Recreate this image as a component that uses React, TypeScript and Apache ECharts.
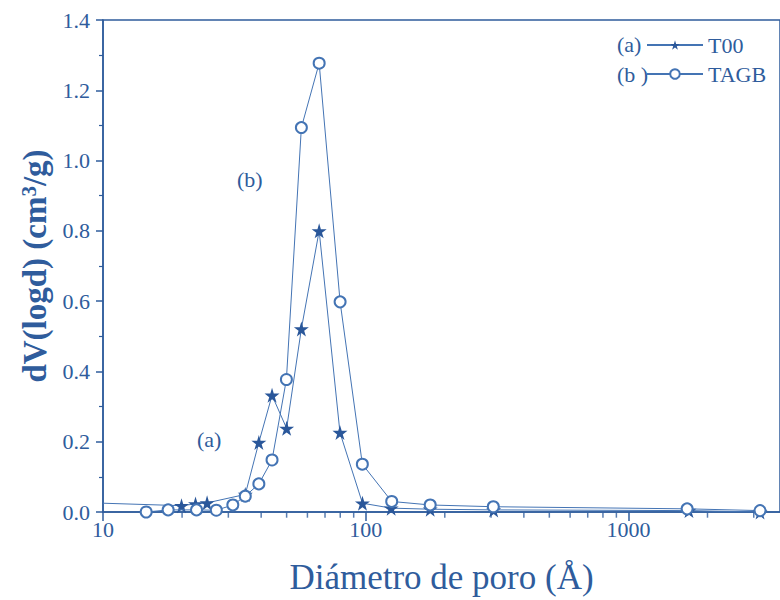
import React, { useEffect, useRef } from "react";
import * as echarts from "echarts";

// Pore diameter (Å) and dV(logd) (cm³/g)
const t00Diameter = [10, 19.9, 22.5, 24.9, 34.8, 39.2, 44.0, 50.0, 56.9, 66.5, 79.8, 97.2, 125, 176, 307, 1700, 3170];
const t00Values = [0.025, 0.018, 0.023, 0.026, 0.05, 0.198, 0.332, 0.238, 0.521, 0.8, 0.226, 0.025, 0.011, 0.008, 0.006, 0.004, 0.0];

const tagbDiameter = [14.6, 17.7, 22.7, 27.0, 31.2, 34.8, 39.2, 44.0, 49.9, 56.9, 66.5, 79.9, 97.1, 125.6, 176, 306, 1673, 3170];
const tagbValues = [0.0, 0.006, 0.006, 0.005, 0.02, 0.045, 0.08, 0.148, 0.377, 1.094, 1.277, 0.598, 0.136, 0.03, 0.02, 0.015, 0.009, 0.004];

const xMinorTicks = [20, 30, 40, 50, 60, 70, 80, 90, 200, 300, 400, 500, 600, 700, 800, 900, 2000, 3000];
const yTickValues = [0, 0.2, 0.4, 0.6, 0.8, 1.0, 1.2, 1.4];

const BLUE = "#2f5c9c";
const LINE = "#4474b4";
const FONT = "'Liberation Serif', 'Times New Roman', serif";
const STAR = "path://M50,0 L61,35 L98,35 L68,57 L79,91 L50,70 L21,91 L32,57 L2,35 L39,35 Z";
const X_MIN = 10;
const X_MAX = 3776;

export default function App() {
  const ref = useRef<HTMLDivElement>(null);
  useEffect(() => {
    if (!ref.current) return;
    const chart = echarts.init(ref.current, null, { renderer: "svg" });
    const t00Data = t00Diameter.map((d, i) =>
      i === 0 ? { value: [d, t00Values[i]], symbol: "none" } : [d, t00Values[i]]
    );
    const tagbData = tagbDiameter.map((d, i) => [d, tagbValues[i]]);
    chart.setOption({
      animation: false,
      backgroundColor: "#fff",
      grid: {
        left: 103,
        top: 20,
        right: -2,
        bottom: 86,
        show: true,
        borderColor: BLUE,
        borderWidth: 1.5,
      },
      legend: {
        orient: "vertical",
        left: 646,
        top: 34,
        padding: 0,
        itemWidth: 56,
        itemHeight: 12,
        itemGap: 7,
        data: ["T00", "TAGB"],
        textStyle: { fontFamily: FONT, fontSize: 22, color: BLUE },
      },
      xAxis: {
        type: "log",
        logBase: 10,
        min: X_MIN,
        max: X_MAX,
        name: "Diámetro de poro (Å)",
        nameLocation: "middle",
        nameGap: 48,
        nameTextStyle: { fontFamily: FONT, fontSize: 35, color: BLUE },
        axisLine: { lineStyle: { color: BLUE, width: 1.5 } },
        axisTick: { show: true, length: 9, lineStyle: { color: BLUE, width: 1.5 } },
        axisLabel: {
          fontFamily: FONT,
          fontSize: 22,
          color: BLUE,
          margin: 6,
          showMaxLabel: false,
          formatter: (v: number) => String(Math.round(v)),
        },
        splitLine: { show: false },
      },
      yAxis: {
        type: "value",
        min: 0,
        max: 1.4,
        interval: 0.2,
        name: "{a|dV(logd) (cm}{s|3}{a|/g)}",
        nameLocation: "middle",
        nameGap: 50,
        nameTextStyle: {
          rich: {
            a: { fontFamily: FONT, fontSize: 33, fontWeight: "bold", color: BLUE },
            s: { fontFamily: FONT, fontSize: 21, fontWeight: "bold", color: BLUE, verticalAlign: "top", padding: [0, 0, 10, 0] },
          },
        },
        axisLine: { show: true, lineStyle: { color: BLUE, width: 1.5 } },
        axisTick: { show: true, length: 7, lineStyle: { color: BLUE, width: 1.5 } },
        minorTick: { show: true, splitNumber: 2, length: 4, lineStyle: { color: BLUE, width: 1.2 } },
        axisLabel: {
          fontFamily: FONT,
          fontSize: 22,
          color: BLUE,
          margin: 13,
          formatter: (v: number) => (yTickValues.includes(Math.round(v * 10) / 10) ? v.toFixed(1) : ""),
        },
        splitLine: { show: false },
      },
      graphic: [
        { type: "text", left: 617, top: 33, style: { text: "(a)", font: `22px ${FONT}`, fill: BLUE } },
        { type: "text", left: 617, top: 63, style: { text: "(b )", font: `22px ${FONT}`, fill: BLUE } },
        { type: "text", left: 197, top: 428, style: { text: "(a)", font: `22px ${FONT}`, fill: BLUE } },
        { type: "text", left: 237, top: 168, style: { text: "(b)", font: `22px ${FONT}`, fill: BLUE } },
      ],
      series: [
        {
          name: "T00",
          type: "line",
          data: t00Data,
          symbol: STAR,
          symbolSize: 15,
          lineStyle: { color: LINE, width: 1 },
          itemStyle: { color: "#2a579a" },
          z: 3,
        },
        {
          name: "TAGB",
          type: "line",
          data: tagbData,
          symbol: "emptyCircle",
          symbolSize: 11,
          lineStyle: { color: LINE, width: 1 },
          itemStyle: { color: LINE, borderWidth: 1.2 },
          z: 4,
        },
        {
          name: "minorTicks",
          type: "scatter",
          silent: true,
          clip: false,
          data: xMinorTicks.map((v) => [v, 0]),
          symbol: "rect",
          symbolSize: [1.5, 5],
          symbolOffset: [0, 3.2],
          itemStyle: { color: BLUE },
          z: 1,
        },
      ],
    });
    return () => chart.dispose();
  }, []);
  return (
    <div
      ref={ref}
      style={{ position: "fixed", left: 0, top: 0, width: 780, height: 600, background: "#fff" }}
    />
  );
}
